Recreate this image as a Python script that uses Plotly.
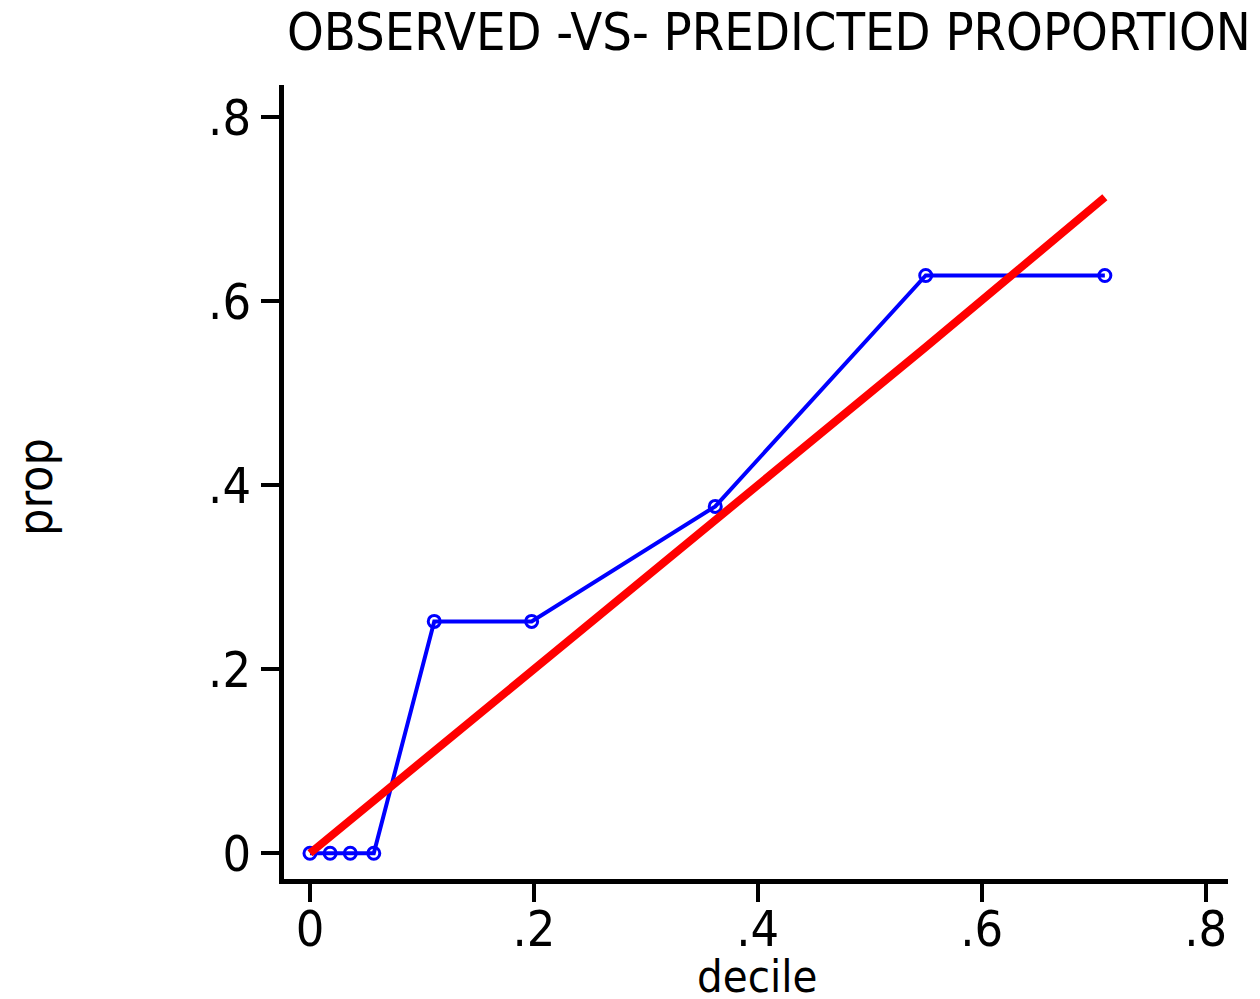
import plotly.graph_objects as go

decile = [0.0, 0.018, 0.036, 0.057, 0.111, 0.198, 0.362, 0.550, 0.710]
observed = [0.0, 0.0, 0.0, 0.0, 0.252, 0.252, 0.377, 0.628, 0.628]
predicted = [0.0, 0.018, 0.036, 0.057, 0.111, 0.198, 0.362, 0.550, 0.713]
tick_vals = [0, 0.2, 0.4, 0.6, 0.8]
tick_text = ["0", ".2", ".4", ".6", ".8"]

FONT = "Liberation Sans Narrow, DejaVu Sans Condensed, Arial Narrow, sans-serif"

fig = go.Figure()
fig.add_trace(go.Scatter(
    x=decile, y=observed, mode="lines+markers",
    line=dict(color="#0000ff", width=4),
    marker=dict(symbol="circle-open", size=12, color="#0000ff", line=dict(width=3, color="#0000ff")),
    showlegend=False))
fig.add_trace(go.Scatter(
    x=decile, y=predicted, mode="lines",
    line=dict(color="#ff0000", width=8),
    showlegend=False))

axis_common = dict(
    showline=True, linecolor="black", linewidth=5, mirror=False,
    showgrid=False, zeroline=False,
    ticks="outside", ticklen=18, tickwidth=4, tickcolor="black",
    tickvals=tick_vals, ticktext=tick_text,
    tickfont=dict(family=FONT, size=50, color="black"),
)
fig.update_xaxes(range=[-0.0232, 0.82], ticklabelstandoff=-16, **axis_common)
fig.update_yaxes(range=[-0.028, 0.835], **axis_common)

L, R, T, B = 276, 40, 77, 128
W, H = 1260, 999
dw, dh = W - L - R, H - T - B

fig.update_layout(
    width=W, height=H,
    margin=dict(l=L, r=R, t=T, b=B, pad=0),
    plot_bgcolor="white", paper_bgcolor="white",
    annotations=[
        dict(text="OBSERVED -VS- PREDICTED PROPORTION", xref="paper", yref="paper",
             x=0.001, y=1 + (T - 24) / dh, xanchor="left", yanchor="middle", showarrow=False,
             font=dict(family=FONT, size=52, color="black")),
        dict(text="decile", xref="paper", yref="paper",
             x=(749 - L) / dw, y=-(968 - (H - B)) / dh, xanchor="center", yanchor="middle",
             showarrow=False, font=dict(family=FONT, size=45, color="black")),
        dict(text="prop", xref="paper", yref="paper", textangle=-90,
             x=-(L - 27) / dw, y=((H - B) - 479) / dh, xanchor="center", yanchor="middle",
             showarrow=False, font=dict(family=FONT, size=48, color="black")),
    ],
)

fig.write_html("out.html")
